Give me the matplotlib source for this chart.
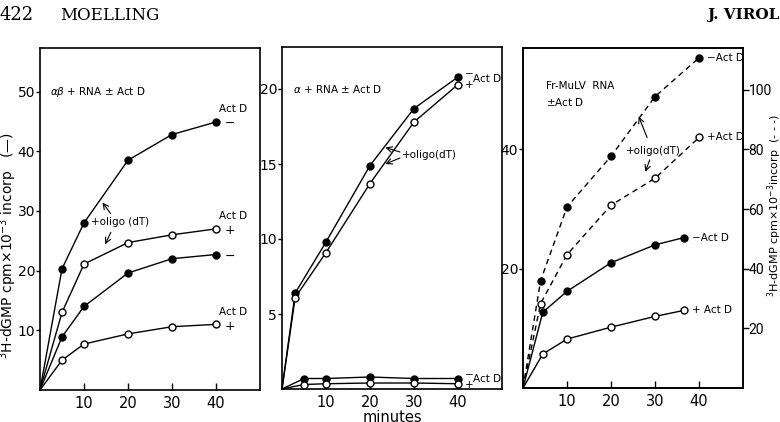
import matplotlib
matplotlib.use('Agg')
import matplotlib.pyplot as plt

plt.rcParams['font.family'] = ['DejaVu Sans']

# panel 1: alpha-beta + RNA (minutes, cpm x 10^-3)
t1 = [0, 5, 10, 20, 30, 40]
p1_oligo_minus = [0, 20.3, 28.0, 38.5, 42.8, 44.9]
p1_oligo_plus = [0, 13.0, 21.1, 24.7, 26.0, 27.0]
p1_minus = [0, 8.9, 14.0, 19.6, 22.0, 22.7]
p1_plus = [0, 5.0, 7.7, 9.4, 10.6, 11.0]

# panel 2: alpha + RNA
t2_oligo = [0, 3, 10, 20, 30, 40]
p2_oligo_minus = [0, 6.4, 9.8, 14.9, 18.7, 20.8]
p2_oligo_plus = [0, 6.1, 9.1, 13.7, 17.8, 20.3]
t2 = [0, 5, 10, 20, 30, 40]
p2_minus = [0, 0.7, 0.7, 0.8, 0.7, 0.7]
p2_plus = [0, 0.3, 0.35, 0.4, 0.4, 0.35]

# panel 3: Fr-MuLV RNA, dashed on right axis, solid on left axis
t3_dash = [0, 4, 10, 20, 30, 40]
p3_dash_minus = [0, 36, 60.7, 77.7, 97.7, 110.7]
p3_dash_plus = [0, 28.3, 44.7, 61.3, 70.3, 84]
t3 = [0, 4.5, 10, 20, 30, 36.5]
p3_minus = [0, 12.7, 16.2, 21.0, 24.0, 25.2]
p3_plus = [0, 5.7, 8.2, 10.2, 12.0, 13.0]

W, H = 780, 422
fig = plt.figure(figsize=(W/100, H/100), dpi=100)

def box(x0, y0, x1, y1):
    return [x0/W, 1 - y1/H, (x1 - x0)/W, (y1 - y0)/H]

def style(ax):
    for s in ax.spines.values():
        s.set_linewidth(1.2)
    ax.tick_params(axis='y', direction='out', length=3, width=1, labelsize=10, pad=0.5)
    ax.tick_params(axis='x', direction='in', length=5, width=1, labelsize=10.5, pad=4)
    ax.set_xlim(0, 50)
    ax.set_xticks([10, 20, 30, 40])

def line(ax, x, y, filled, dashed=False):
    ax.plot(x, y, color='black', lw=1.0, ls=(0, (4, 3)) if dashed else '-',
            marker='o', ms=5, mew=1.0, mec='black',
            mfc='black' if filled else 'white', markevery=list(range(1, len(x))),
            clip_on=False, zorder=3)

arrow = dict(arrowstyle='->', lw=0.8, color='black', shrinkA=0, shrinkB=0)
small = 7.5

# ---- panel 1
ax1 = fig.add_axes(box(40, 48, 260, 390))
style(ax1)
ax1.set_ylim(0, 57.3)
ax1.set_yticks([10, 20, 30, 40, 50])
line(ax1, t1, p1_oligo_minus, True)
line(ax1, t1, p1_oligo_plus, False)
line(ax1, t1, p1_minus, True)
line(ax1, t1, p1_plus, False)
ax1.text(2.2, 50.0, r'$\alpha\beta$ + RNA $\pm$ Act D', fontsize=small, va='center')
for yv, sign in [(p1_oligo_minus[-1], '−'), (p1_oligo_plus[-1], '+'), (p1_plus[-1], '+')]:
    ax1.text(40.6, yv + 2.1, 'Act D', fontsize=small, va='center')
    ax1.text(42, yv - 0.3, sign, fontsize=9, va='center')
ax1.text(42, p1_minus[-1] - 0.3, '−', fontsize=9, va='center')
ax1.text(11.6, 28.1, '+oligo (dT)', fontsize=small, va='center')
ax1.annotate('', xy=(14.2, 31.4), xytext=(16.0, 29.6), arrowprops=arrow)
ax1.annotate('', xy=(14.8, 24.4), xytext=(16.1, 26.4), arrowprops=arrow)

fig.text(8/W, 1 - 246/H, r'$^3$H-dGMP cpm$\times$10$^{-3}$ incorp   (—)',
         fontsize=10, rotation=90, ha='center', va='center')

# ---- panel 2
ax2 = fig.add_axes(box(282, 47, 502, 389))
style(ax2)
ax2.set_ylim(0, 22.8)
ax2.set_yticks([5, 10, 15, 20])
line(ax2, t2_oligo, p2_oligo_minus, True)
line(ax2, t2_oligo, p2_oligo_plus, False)
line(ax2, t2, p2_minus, True)
line(ax2, t2, p2_plus, False)
ax2.text(2.5, 20.0, r'$\alpha$ + RNA $\pm$ Act D', fontsize=small, va='center')
ax2.text(41.6, 21.0, '−', fontsize=7.5, va='center')
ax2.text(41.6, 20.3, '+', fontsize=7.5, va='center')
ax2.text(43.3, 20.65, 'Act D', fontsize=small, va='center')
ax2.text(41.6, 0.95, '−', fontsize=7.5, va='center')
ax2.text(41.6, 0.3, '+', fontsize=7.5, va='center')
ax2.text(43.3, 0.65, 'Act D', fontsize=small, va='center')
ax2.text(27.3, 15.6, '+oligo(dT)', fontsize=small, va='center')
ax2.annotate('', xy=(23.5, 16.1), xytext=(26.8, 15.8), arrowprops=arrow)
ax2.annotate('', xy=(23.5, 15.0), xytext=(26.8, 15.4), arrowprops=arrow)
ax2.set_xlabel('minutes', fontsize=10.5, labelpad=0)

# ---- panel 3
ax3 = fig.add_axes(box(523, 48, 743, 388))
style(ax3)
ax3.set_ylim(0, 57)
ax3.set_yticks([20, 40])
ax3r = ax3.twinx()
ax3r.set_ylim(0, 114)
ax3r.set_yticks([20, 40, 60, 80, 100])
ax3r.tick_params(axis='y', direction='out', length=4, width=1, labelsize=10, pad=0)
for lab in ax3r.get_yticklabels():
    lab.set_family(['Roboto', 'DejaVu Sans'])
for s in ax3r.spines.values():
    s.set_linewidth(1.2)
line(ax3r, t3_dash, p3_dash_minus, True, dashed=True)
line(ax3r, t3_dash, p3_dash_plus, False, dashed=True)
line(ax3, t3, p3_minus, True)
line(ax3, t3, p3_plus, False)
ax3.text(5.3, 50.7, 'Fr-MuLV  RNA', fontsize=small, va='center')
ax3.text(5.3, 48.0, r'$\pm$Act D', fontsize=small, va='center')
ax3r.text(41.8, p3_dash_minus[-1], '−Act D', fontsize=small, va='center')
ax3r.text(41.8, p3_dash_plus[-1], '+Act D', fontsize=small, va='center')
ax3.text(38.3, p3_minus[-1], '−Act D', fontsize=small, va='center')
ax3.text(38.3, p3_plus[-1], '+ Act D', fontsize=small, va='center')
ax3r.text(23.5, 79.5, '+oligo(dT)', fontsize=small, va='center')
ax3r.annotate('', xy=(26.3, 91.0), xytext=(28.2, 84.0), arrowprops=arrow)
ax3r.annotate('', xy=(27.8, 72.5), xytext=(28.8, 76.5), arrowprops=arrow)

fig.text(775/W, 1 - 205/H, r'$^3$H-dGMP cpm$\times$10$^{-3}$incorp  (- - -)',
         fontsize=8, rotation=90, ha='center', va='center')

# header
fig.text(0.0, 1 - 15/H, '422', fontsize=13, family='DejaVu Serif', va='center')
fig.text(60/W, 1 - 15/H, 'MOELLING', fontsize=12, family='DejaVu Serif', va='center')
fig.text(1.0, 1 - 15/H, 'J. VIROL', fontsize=11, family='DejaVu Serif', va='center',
         ha='right', weight='bold')

fig.savefig('out.png', dpi=100)
